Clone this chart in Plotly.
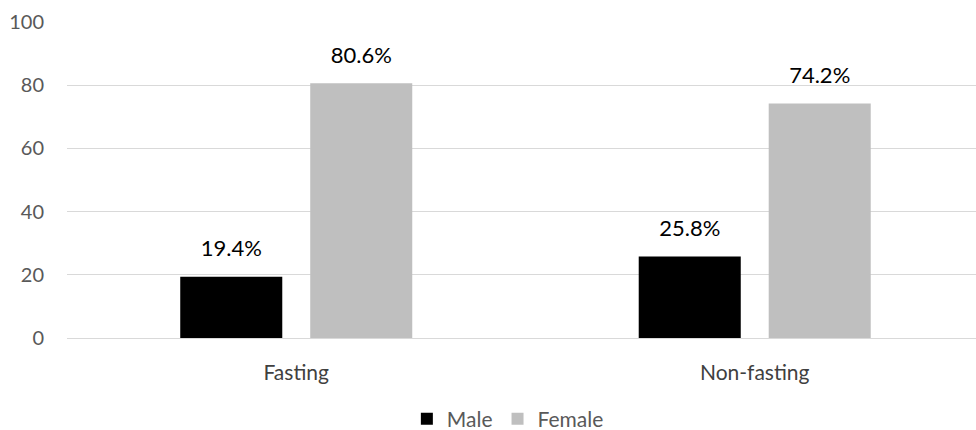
import plotly.graph_objects as go

categories = ["Fasting", "Non-fasting"]
male = [19.4, 25.8]
female = [80.6, 74.2]
series_names = ["Male", "Female"]
y_ticks = [0, 20, 40, 60, 80, 100]

FONT = "Lato"
GAP = 0.433
fig = go.Figure()
for name, vals, color in [(series_names[0], male, "#000000"), (series_names[1], female, "#bfbfbf")]:
    fig.add_trace(go.Bar(
        x=categories, y=vals, name=name, marker_color=color,
        marker_line_width=0, offsetgroup=name, hoverinfo="x+y",
    ))
for name, vals in [(series_names[0], male), (series_names[1], female)]:
    fig.add_trace(go.Scatter(
        x=categories, y=vals, mode="markers+text", offsetgroup=name,
        marker=dict(size=22, opacity=0), showlegend=False,
        text=[f"{v:.1f}%" for v in vals], textposition="top center",
        textfont=dict(family=FONT, size=22, color="#000000"),
        cliponaxis=False, hoverinfo="skip",
    ))

fig.update_layout(
    width=976, height=430,
    margin=dict(l=67, r=0, t=22, b=92, autoexpand=False),
    paper_bgcolor="white", plot_bgcolor="white",
    barmode="group", bargap=GAP, bargroupgap=0.215,
    scattermode="group", scattergap=GAP,
    font=dict(family=FONT, size=20, color="#595959"),
    showlegend=True,
    legend=dict(orientation="h", x=0.485, xanchor="center", yref="container", y=0.0256,
                yanchor="middle", font=dict(family=FONT, size=21, color="#595959"),
                traceorder="normal"),
    xaxis=dict(range=[-0.5, 1.4826], showgrid=False, showline=False, ticks="",
               ticklabelstandoff=20,
               tickfont=dict(family=FONT, size=21, color="#404040")),
    yaxis=dict(range=[0, 100], tickvals=y_ticks, showgrid=True, gridcolor="#d9d9d9",
               gridwidth=1, zeroline=True, zerolinecolor="#d9d9d9", zerolinewidth=1,
               showline=False, ticks="", ticklabelstandoff=22,
               tickfont=dict(family=FONT, size=20, color="#595959")),
)

fig.write_html("out.html")
